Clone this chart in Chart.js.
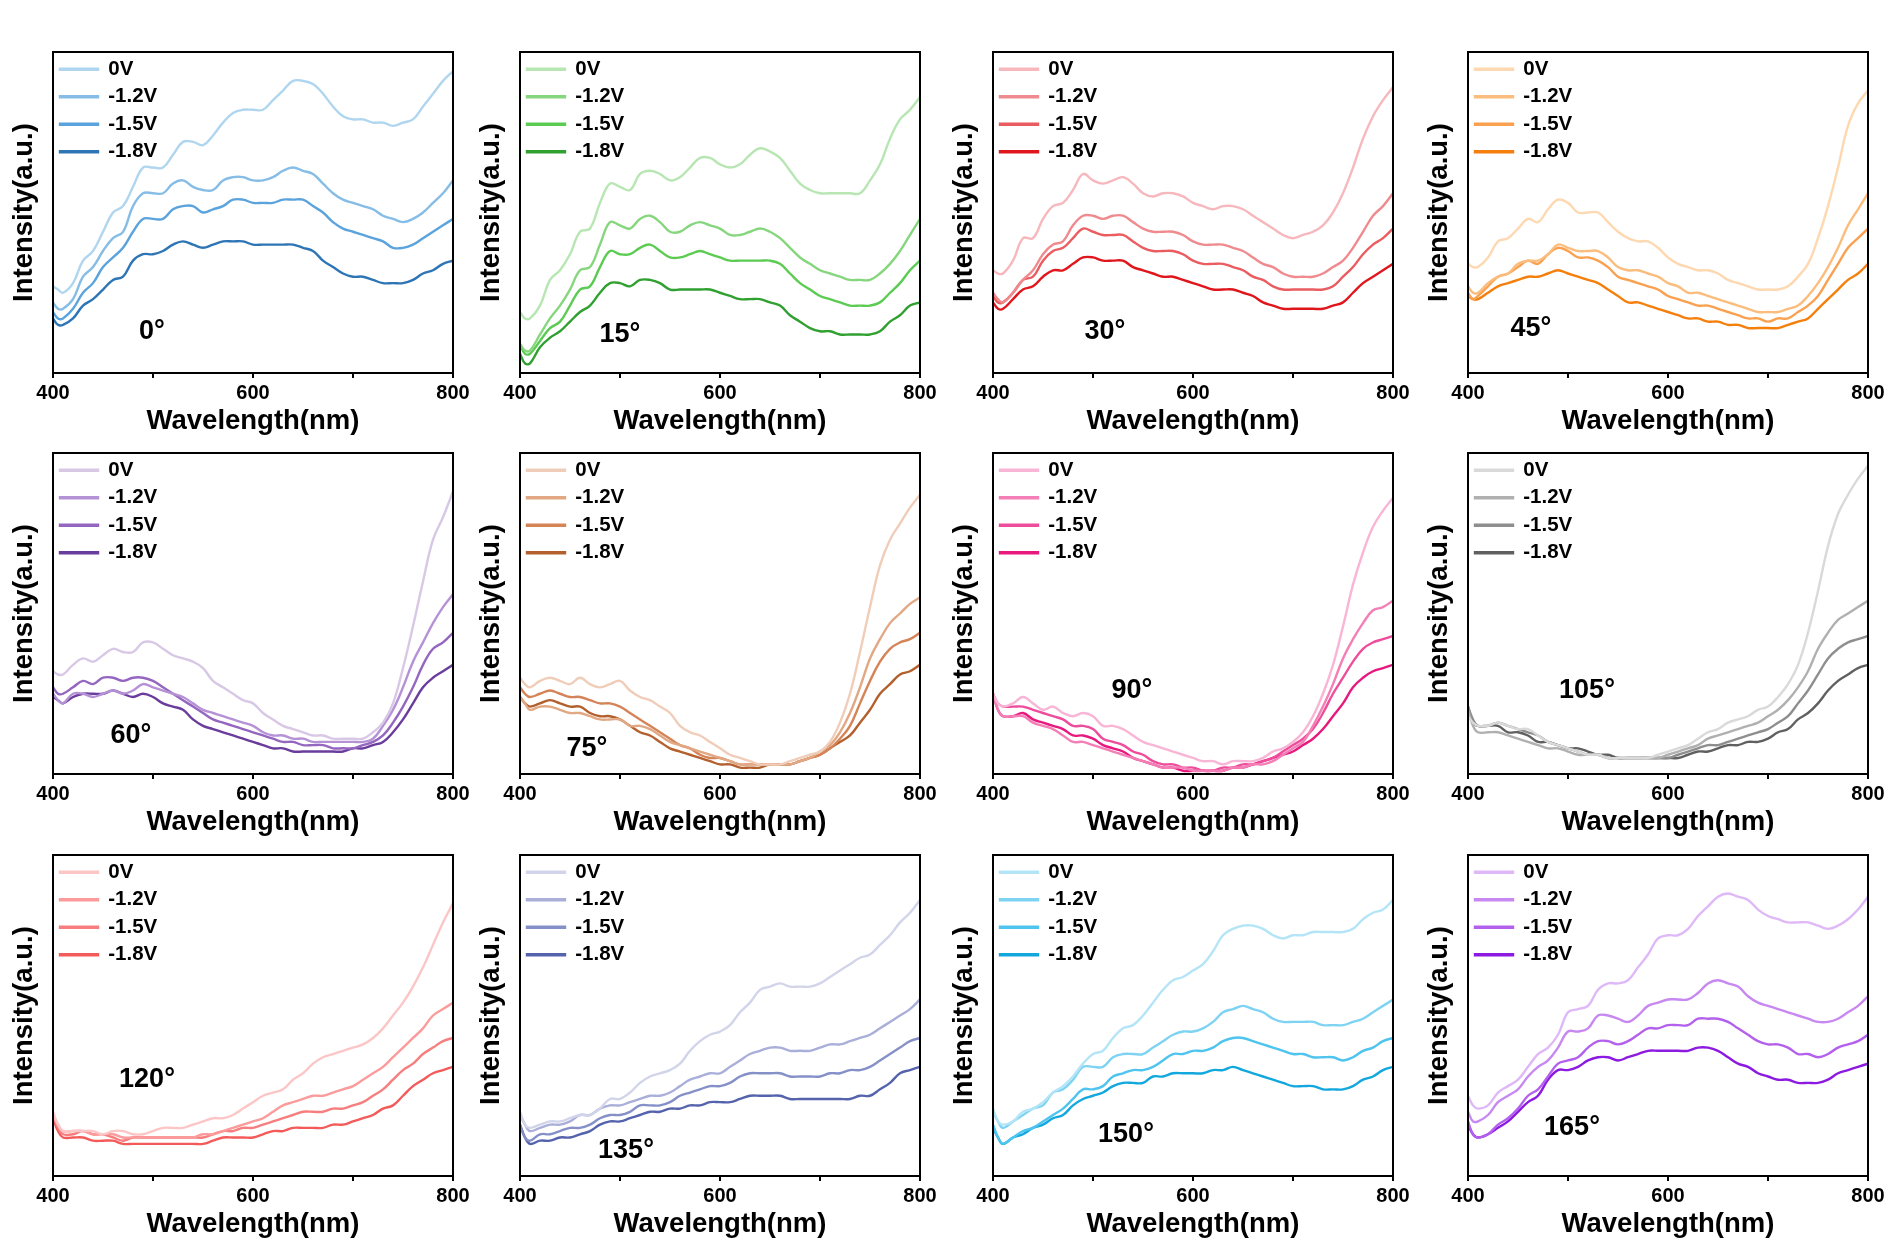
<!DOCTYPE html>
<html>
<head>
<meta charset="utf-8">
<title>Spectra at different angles and voltages</title>
<script src="https://cdn.jsdelivr.net/npm/chart.js@4.4.1/dist/chart.umd.min.js"></script>
<style>
  body { margin: 0; background: #fff; }
  #board { position: relative; width: 1892px; height: 1252px; overflow: hidden; }
  #board canvas { position: absolute; }
</style>
</head>
<body>
<div id="board"></div>
<script>
// wavelength grid (nm) shared by all panels
const WL = [400, 405, 410, 420, 430, 440, 450, 460, 470, 480, 490, 500, 510, 520, 530, 540, 550, 560, 570, 580, 590,
            600, 610, 620, 630, 640, 650, 660, 670, 680, 690, 700, 710, 720, 730, 740, 750, 760, 770, 780, 790, 800];
const VOLTS = ['0V', '-1.2V', '-1.5V', '-1.8V'];
const ANGLES = ['0°', '15°', '30°', '45°', '60°', '75°', '90°', '105°', '120°', '135°', '150°', '165°'];

// intensity (a.u., 0-100 of the plot height), one row per voltage
const deg0 = [
  [27,26,25,28,35,38,44,50,52,58,64,64,64,68,72,72,71,74,78,81,82,82,82,85,88,91,91,90,87,83,80,79,79,78,78,77,78,79,83,87,91,94],
  [22,20,20,23,30,33,38,42,44,52,56,56,56,59,60,58,57,57,60,61,61,60,60,61,63,64,63,62,59,56,54,53,52,51,49,48,47,48,50,53,56,60],
  [19,17,17,20,25,28,33,36,39,44,48,48,48,51,52,52,50,51,52,54,54,53,53,53,54,54,54,52,50,47,45,44,43,42,41,39,39,40,42,44,46,48],
  [17,15,15,17,21,23,26,29,30,35,37,37,38,40,41,40,39,40,41,41,41,40,40,40,40,40,39,38,35,33,31,30,30,29,28,28,28,29,31,32,34,35]
];
const deg15 = [
  [19,17,17,21,29,32,37,44,45,53,59,58,57,62,63,62,60,61,64,67,67,65,64,65,68,70,69,67,63,59,57,56,56,56,56,56,60,65,73,79,82,86],
  [9,7,7,12,17,21,26,32,33,40,47,46,45,48,49,47,44,44,46,47,46,45,43,43,44,45,44,42,39,36,34,32,31,30,29,29,29,31,34,38,43,48],
  [9,6,6,10,14,16,21,26,27,33,38,37,37,39,40,38,36,36,37,38,37,36,35,35,35,35,35,34,31,28,26,24,23,22,21,21,21,22,25,28,32,35],
  [6,3,3,8,11,13,16,19,21,25,28,28,27,29,29,28,26,26,26,26,26,25,24,23,23,23,22,21,18,16,14,13,13,12,12,12,12,13,16,18,21,22]
];
const deg30 = [
  [32,31,31,35,42,42,48,52,53,57,62,60,59,60,61,59,56,55,56,56,55,53,52,51,52,52,51,49,47,45,43,42,43,44,46,50,56,64,73,80,85,89],
  [25,23,22,25,29,32,37,40,41,46,49,49,48,49,49,47,45,44,44,44,43,41,40,40,40,39,38,36,34,33,31,30,30,30,31,33,35,39,44,49,52,56],
  [24,22,22,25,29,30,35,38,39,42,45,44,43,43,43,41,39,38,38,38,37,35,34,34,34,33,32,30,29,27,26,26,26,26,26,27,30,33,37,40,42,45],
  [22,20,20,23,26,27,30,32,32,34,36,36,35,35,35,33,32,31,30,30,29,28,27,26,26,26,25,24,22,21,20,20,20,20,20,21,22,25,28,30,32,34]
];
const deg45 = [
  [34,33,33,36,41,42,45,48,47,51,54,53,50,50,50,47,44,42,41,41,39,36,34,33,32,32,31,29,28,27,26,26,26,27,30,34,42,52,64,77,84,88],
  [27,25,25,28,30,31,34,35,35,37,40,39,38,38,38,36,33,32,32,31,30,28,27,25,25,24,23,22,21,20,19,19,19,20,21,24,28,33,39,46,51,56],
  [25,23,24,27,30,31,33,35,34,37,39,38,36,36,35,33,30,29,28,27,26,24,23,22,21,21,20,19,18,17,17,16,17,17,19,21,24,29,34,39,42,45],
  [24,23,23,25,27,28,29,30,30,31,32,31,30,29,28,26,24,22,22,21,20,19,18,17,17,16,16,15,15,14,14,14,14,15,16,17,20,23,26,29,31,34]
];
const deg60 = [
  [32,31,31,34,36,35,37,39,38,38,41,41,39,37,36,35,33,29,27,25,23,22,19,17,15,14,13,12,12,11,11,11,11,13,16,22,33,46,60,73,80,88],
  [25,23,22,25,25,24,25,26,25,26,28,27,26,25,24,22,20,19,18,17,16,15,13,12,12,11,11,10,10,10,10,10,10,11,15,20,27,35,41,47,52,56],
  [27,25,25,27,29,28,30,30,29,30,30,29,27,25,23,21,19,17,16,15,14,13,12,11,10,10,9,9,9,8,8,8,9,10,12,16,21,27,34,39,41,44],
  [24,23,22,24,25,25,25,26,25,24,25,24,22,21,20,17,15,14,13,12,11,10,9,8,8,7,7,7,7,7,7,8,8,9,10,13,17,22,27,30,32,34]
];
const deg75 = [
  [30,28,27,29,30,29,28,30,28,27,28,29,26,24,23,21,19,15,13,12,10,8,6,5,4,3,3,3,4,5,6,7,10,16,25,38,52,65,73,78,83,87],
  [24,22,20,21,21,20,19,19,18,17,17,17,15,15,14,12,10,9,8,7,6,5,4,3,3,3,3,3,3,4,5,7,9,13,19,27,36,42,47,50,53,55],
  [27,25,24,25,26,25,24,24,23,22,22,21,19,17,15,13,11,9,8,6,5,5,4,3,3,3,3,3,3,4,5,6,8,11,15,22,29,35,39,41,42,44],
  [24,22,21,22,23,22,21,21,19,18,18,17,15,13,12,10,8,7,6,5,4,3,3,2,2,2,3,3,3,4,5,6,8,10,12,16,20,25,28,31,32,34]
];
const deg90 = [
  [25,22,21,22,24,22,20,21,19,18,19,18,15,15,14,12,10,9,8,7,6,5,4,4,3,4,4,4,5,7,8,10,13,18,25,34,46,59,69,77,82,86],
  [25,20,18,18,18,16,15,14,12,10,10,9,8,7,6,5,4,3,2,2,2,1,1,1,1,2,2,3,3,4,6,8,10,15,21,28,36,42,47,51,52,54],
  [25,22,21,21,21,20,19,18,17,15,15,14,11,10,9,7,6,4,3,3,2,2,1,1,2,2,3,3,4,5,7,9,11,14,19,25,30,35,39,41,42,43],
  [25,20,18,18,19,17,16,15,14,12,12,11,9,8,7,5,4,3,2,2,1,1,1,1,1,2,2,3,4,5,6,7,9,11,14,18,22,27,30,32,33,34]
];
const deg105 = [
  [18,16,15,15,16,15,14,14,12,10,9,8,7,6,6,5,5,5,5,5,6,7,8,9,11,13,14,16,17,18,20,21,24,28,34,44,57,71,81,87,92,96],
  [20,15,13,13,13,12,11,10,9,8,8,7,6,6,6,5,5,5,5,5,5,6,7,8,9,11,12,13,14,15,16,18,20,23,27,32,39,44,48,50,52,54],
  [21,17,15,15,16,15,14,13,12,10,9,8,7,6,6,5,5,5,5,5,5,5,6,7,8,9,9,10,11,12,13,14,16,18,22,26,31,36,39,41,42,43],
  [21,16,15,15,15,13,13,12,10,10,9,8,8,7,6,6,5,5,5,5,5,5,5,6,7,7,8,9,9,10,10,11,13,14,17,19,22,26,29,31,33,34]
];
const deg120 = [
  [20,16,14,14,14,14,13,14,14,13,13,14,15,15,15,16,17,18,18,19,21,23,25,26,27,30,32,35,37,38,39,40,41,43,46,50,54,59,65,72,79,85],
  [19,16,14,14,14,13,13,13,12,12,12,12,12,12,12,12,13,13,14,15,16,17,18,20,22,23,24,25,25,26,27,28,30,32,34,37,40,43,46,50,52,54],
  [19,15,13,13,14,13,13,12,11,12,12,12,12,12,12,12,12,13,14,14,15,15,16,17,18,19,20,20,20,21,21,22,23,25,27,30,33,35,38,40,42,43],
  [18,14,12,12,12,11,11,11,10,10,10,10,10,10,10,10,10,11,12,12,12,12,13,14,14,15,15,15,15,16,16,17,18,19,21,22,25,28,30,32,33,34]
];
const deg135 = [
  [20,16,15,16,17,17,18,19,19,21,24,24,26,29,31,32,33,35,39,42,44,45,47,51,54,58,59,60,59,59,59,60,62,64,66,68,69,72,75,79,82,86],
  [19,16,14,15,16,16,17,19,19,21,22,22,23,24,25,25,26,28,30,31,32,32,34,36,38,39,40,40,39,39,39,40,41,41,42,43,44,46,48,50,52,55],
  [16,12,11,13,13,14,15,15,16,18,19,19,20,22,22,22,23,25,26,27,28,28,29,31,32,32,32,32,31,31,31,31,32,32,33,33,34,36,38,40,42,43],
  [16,12,10,11,11,12,12,13,14,16,17,17,18,19,20,20,21,21,22,22,23,23,23,24,25,25,25,25,24,24,24,24,24,24,24,25,25,27,29,32,33,34]
];
const deg150 = [
  [21,17,16,17,20,21,23,26,28,31,35,38,39,43,46,47,50,54,58,61,62,64,66,70,75,77,78,78,77,75,74,75,75,76,76,76,76,77,80,82,83,86],
  [20,17,15,17,19,21,22,26,27,30,34,34,34,37,38,38,38,40,42,44,45,45,46,48,51,52,53,52,51,49,48,48,48,48,47,47,47,48,49,51,53,55],
  [16,12,10,12,14,15,17,19,21,24,27,27,28,31,32,33,33,34,36,38,38,39,39,40,42,43,43,42,41,40,39,38,38,37,37,37,36,37,39,40,42,43],
  [15,12,10,12,13,15,16,18,19,22,24,25,26,28,29,29,29,31,31,32,32,32,32,33,33,34,33,32,31,30,29,28,28,28,27,27,27,28,30,31,33,34]
];
const deg165 = [
  [25,22,21,22,26,28,30,34,38,40,44,51,52,53,58,60,60,61,65,69,74,75,75,77,81,84,87,88,87,86,83,81,80,79,79,79,78,77,78,80,83,87],
  [20,17,17,19,23,25,27,31,34,36,40,45,45,46,50,50,49,48,50,53,54,55,55,55,57,60,61,60,59,56,54,53,52,51,50,49,48,48,49,51,53,56],
  [17,13,12,13,16,18,21,25,27,31,35,36,37,40,42,42,41,42,44,46,46,47,47,47,49,49,49,48,46,44,42,41,41,40,38,38,37,38,40,41,42,44],
  [16,13,12,13,15,17,20,23,25,30,33,33,34,36,37,37,36,37,38,39,39,39,39,39,40,40,39,37,35,34,32,31,30,30,29,29,29,30,32,33,34,35]
];

const PANELS = [deg0, deg15, deg30, deg45, deg60, deg75, deg90, deg105, deg120, deg135, deg150, deg165];

// line colours, light -> dark
const PALETTES = [
  ['#b0d6ef', '#86bde6', '#5aa3dd', '#2e75b6'],
  ['#b8e6b3', '#86d67e', '#5ccb52', '#30a030'],
  ['#f6b8bc', '#ef8a8e', '#ea5c60', '#e0161d'],
  ['#fdd8b0', '#fbbd7d', '#f9a150', '#f57f0c'],
  ['#d8c8e6', '#b592d6', '#9466c0', '#6a3c9c'],
  ['#f0cdb8', '#e2a884', '#d58458', '#b3602e'],
  ['#f9b5d6', '#f37fb6', '#ee4d9b', '#e8197e'],
  ['#d9d9d9', '#b0b0b0', '#8e8e8e', '#606060'],
  ['#fcc6c6', '#fb9b9b', '#f77e7e', '#f35a5a'],
  ['#d2d5ea', '#a9afd9', '#8690c8', '#5563ad'],
  ['#b4e5f7', '#7ed3f3', '#4ec4ee', '#13a8dd'],
  ['#dfb8f7', '#c788f1', '#b360ec', '#8c1ae0']
];

// where the angle text sits, in data units [nm, a.u.]
const LABEL_AT = [[499, 13], [500, 12], [512, 13], [463, 14], [478, 12], [467, 8],
                  [539, 26], [519, 26], [494, 30], [506, 8], [533, 13], [504, 15]];

const FONT = '"Liberation Sans", Arial, Helvetica, sans-serif';
const PLOT_LEFT = [53, 520, 993, 1468];
const PLOT_TOP = [52, 453, 855];
const CW = 473, CH = 440;

Chart.defaults.font.family = FONT;
Chart.defaults.color = '#000';

// full box round the plot + the angle caption; also pins the legend inside the plot
const framePlugin = {
  id: 'frame',
  beforeDraw(chart) {
    const a = chart.chartArea, lg = chart.legend;
    if (lg) {
      lg.left = a.left; lg.right = a.right;
      lg.top = a.top; lg.bottom = a.bottom;
    }
  },
  afterDatasetsDraw(chart, args, opts) {
    const {ctx, chartArea: a, scales} = chart;
    ctx.save();
    ctx.strokeStyle = '#000';
    ctx.lineWidth = 2;
    ctx.strokeRect(a.left, a.top, a.right - a.left, a.bottom - a.top);
    ctx.font = 'bold 27px ' + FONT;
    ctx.fillStyle = '#000';
    ctx.textAlign = 'center';
    ctx.textBaseline = 'middle';
    ctx.fillText(opts.text, scales.x.getPixelForValue(opts.at[0]), scales.y.getPixelForValue(opts.at[1]));
    ctx.restore();
  }
};

const board = document.getElementById('board');

PANELS.forEach(function (series, i) {
  const col = i % 4, row = Math.floor(i / 4);
  const cv = document.createElement('canvas');
  cv.width = CW;
  cv.height = CH;
  cv.style.left = (PLOT_LEFT[col] - 53) + 'px';
  cv.style.top = (PLOT_TOP[row] - 52) + 'px';
  board.appendChild(cv);

  const datasets = series.map(function (vals, k) {
    return {
      label: VOLTS[k],
      data: vals.map(function (v, j) { return { x: WL[j], y: v }; }),
      borderColor: PALETTES[i][k],
      backgroundColor: PALETTES[i][k],
      borderWidth: 2.4,
      pointRadius: 0,
      tension: 0.4,
      fill: false
    };
  });

  new Chart(cv.getContext('2d'), {
    type: 'line',
    data: { datasets: datasets },
    options: {
      responsive: false,
      animation: false,
      events: [],
      layout: { padding: { top: 52, right: CW - 53 - 400, left: 0, bottom: 0 } },
      plugins: {
        legend: {
          position: 'chartArea',
          align: 'start',
          labels: {
            boxWidth: 38,
            boxHeight: 1,
            padding: 7,
            color: '#000',
            font: { size: 20.5, weight: 'bold' }
          }
        },
        tooltip: { enabled: false },
        frame: { text: ANGLES[i], at: LABEL_AT[i] }
      },
      scales: {
        x: {
          type: 'linear',
          min: 400,
          max: 800,
          afterFit: function (s) { s.height = CH - 52 - 321; },
          border: { display: false },
          grid: { drawOnChartArea: false, drawTicks: true, tickLength: 5, color: '#000', lineWidth: 2 },
          ticks: {
            stepSize: 100,
            padding: 3,
            maxRotation: 0,
            autoSkip: false,
            color: '#000',
            font: { size: 20, weight: 'bold' },
            callback: function (v) { return v % 200 === 0 ? v : ''; }
          },
          title: {
            display: true,
            text: 'Wavelength(nm)',
            color: '#000',
            font: { size: 27.5, weight: 'bold' },
            padding: { top: 0, bottom: 2 }
          }
        },
        y: {
          min: 0,
          max: 100,
          afterFit: function (s) { s.width = 53; },
          border: { display: false },
          grid: { display: false },
          ticks: { display: false },
          title: {
            display: true,
            text: 'Intensity(a.u.)',
            color: '#000',
            font: { size: 27.5, weight: 'bold' },
            padding: { top: 8, bottom: 0 }
          }
        }
      }
    },
    plugins: [framePlugin]
  });
});
</script>
</body>
</html>
